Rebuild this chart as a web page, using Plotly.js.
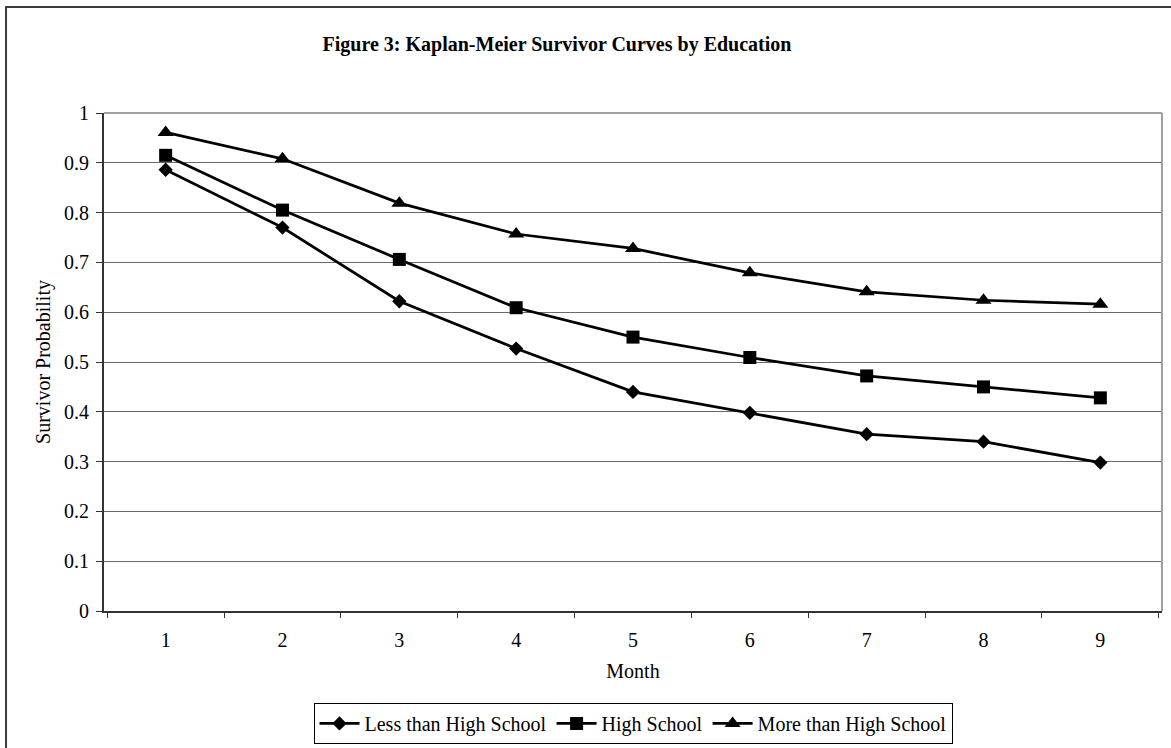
<!DOCTYPE html>
<html>
<head>
<meta charset="utf-8">
<script src="https://cdn.plot.ly/plotly-3.0.1.min.js"></script>
<style>html,body{margin:0;padding:0;background:#fff;}#chart{width:1171px;height:748px;}</style>
</head>
<body>
<div id="chart"></div>
<script>
const months = ['1','2','3','4','5','6','7','8','9'];
const lessThanHS = [0.886, 0.770, 0.622, 0.527, 0.440, 0.398, 0.355, 0.340, 0.298];
const highSchool = [0.915, 0.805, 0.706, 0.609, 0.550, 0.509, 0.472, 0.450, 0.428];
const moreThanHS = [0.961, 0.908, 0.819, 0.757, 0.728, 0.679, 0.641, 0.624, 0.616];
const seriesNames = ['Less than High School', 'High School', 'More than High School'];
const yTicks = [0, 0.1, 0.2, 0.3, 0.4, 0.5, 0.6, 0.7, 0.8, 0.9, 1];
const yTickText = ['0', '0.1', '0.2', '0.3', '0.4', '0.5', '0.6', '0.7', '0.8', '0.9', '1'];

const serif = 'Liberation Serif, Times New Roman, serif';
const fs = 20;
function tr(name, y, symbol, size) {
  return {
    type: 'scatter', mode: 'lines+markers', name: name, x: months, y: y,
    line: {color: '#000', width: 2.75},
    marker: {symbol: symbol, size: size, color: '#000'},
    cliponaxis: false
  };
}
const data = [
  tr(seriesNames[0], lessThanHS, 'diamond', 11),
  tr(seriesNames[1], highSchool, 'square', 13),
  tr(seriesNames[2], moreThanHS, 'triangle-up', 14)
];
const layout = {
  width: 1171, height: 748,
  margin: {l: 104, r: 9, t: 113, b: 137, autoexpand: false},
  paper_bgcolor: '#fff', plot_bgcolor: '#fff',
  font: {family: serif, size: fs, color: '#000'},
  title: {
    text: 'Figure 3: Kaplan-Meier Survivor Curves by Education',
    font: {family: serif, size: 20, weight: 'bold', color: '#000'},
    x: 557/1171, xref: 'container', xanchor: 'center',
    y: 1 - 44/748, yref: 'container', yanchor: 'middle'
  },
  xaxis: {
    type: 'category', tickson: 'boundaries', ticks: 'outside', ticklen: 5,
    tickcolor: '#333', tickwidth: 1, ticklabelstandoff: 10,
    showline: true, linecolor: '#333', linewidth: 2,
    showgrid: false, zeroline: false,
    tickfont: {family: serif, size: fs},
    title: {text: 'Month', font: {family: serif, size: fs}, standoff: 14}
  },
  yaxis: {
    range: [0, 1], tickvals: yTicks, ticktext: yTickText,
    ticks: 'outside', ticklen: 6, tickcolor: '#333', tickwidth: 1, ticklabelstandoff: 3,
    showline: true, linecolor: '#333', linewidth: 2,
    showgrid: true, gridcolor: '#6a6a6a', gridwidth: 1, zeroline: false,
    tickfont: {family: serif, size: fs},
    title: {text: 'Survivor Probability', font: {family: serif, size: fs}, standoff: 8}
  },
  legend: {
    orientation: 'h', x: 0.5, xanchor: 'center', y: -0.267, yanchor: 'bottom',
    bordercolor: '#000', borderwidth: 1, bgcolor: '#fff',
    font: {family: serif, size: fs}, itemwidth: 40, tracegroupgap: 0
  },
  shapes: [
    {type: 'rect', xref: 'paper', yref: 'paper', x0: -0.0926, x1: 1.05, y0: -0.4, y1: 1.2129,
     line: {color: '#3a3a3a', width: 2}, layer: 'below'},
    {type: 'line', xref: 'paper', yref: 'paper', x0: 0, x1: 1, y0: 1, y1: 1,
     line: {color: '#a0a0a0', width: 2}},
    {type: 'line', xref: 'paper', yref: 'paper', x0: 1, x1: 1, y0: 0, y1: 1,
     line: {color: '#a0a0a0', width: 2}}
  ],
  showlegend: true
};
Plotly.newPlot('chart', data, layout, {displayModeBar: false, staticPlot: true});
</script>
</body>
</html>
